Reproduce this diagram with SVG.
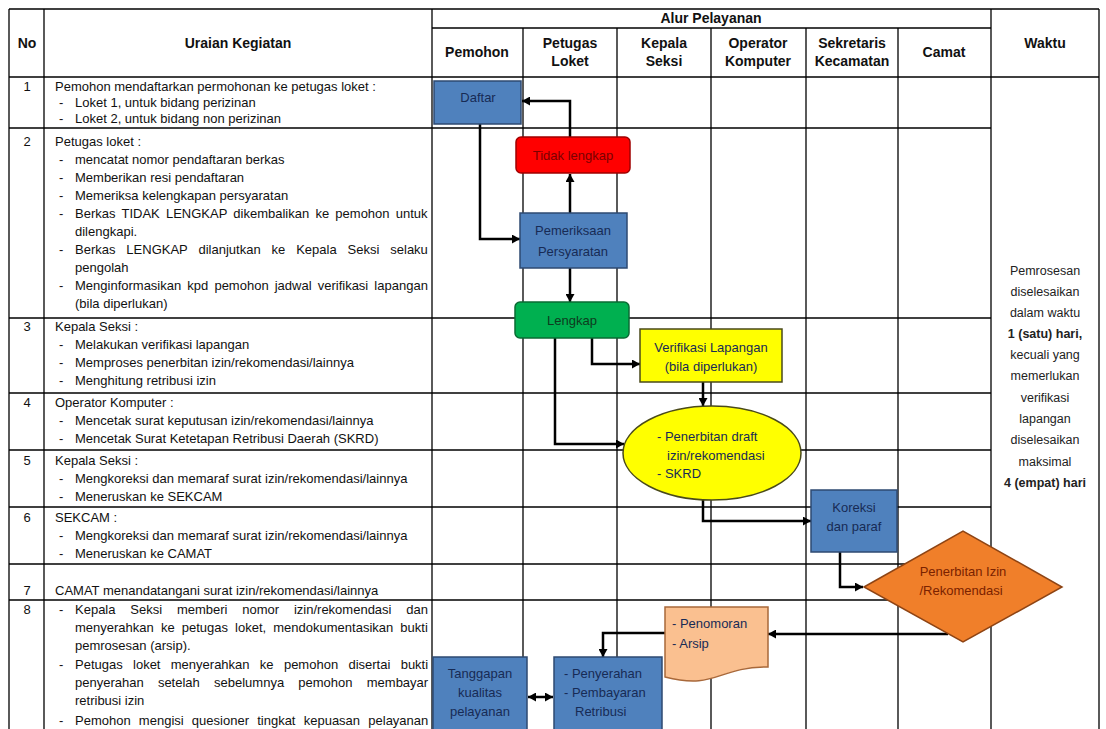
<svg xmlns="http://www.w3.org/2000/svg" width="1106" height="729" viewBox="0 0 1106 729">
<style>
text{font-family:'Liberation Sans',Arial,sans-serif;}
.t{font-size:13px;fill:#111;}
.h{font-size:14px;font-weight:bold;fill:#111;text-anchor:middle;}
.n{font-size:13px;fill:#111;text-anchor:middle;}
.w{font-size:12.5px;fill:#222;text-anchor:middle;}
.grid line{stroke:#000;stroke-width:1.3;}
.box-blue{fill:#4F81BD;stroke:#2E4A72;stroke-width:1.5;}
.tb{font-size:13px;fill:#172B55;text-anchor:middle;}
.conn path{fill:none;stroke:#000;stroke-width:2.5;marker-end:url(#ah);}
</style>
<defs>
<marker id="ah" markerUnits="userSpaceOnUse" markerWidth="9" markerHeight="9" refX="8" refY="4.5" orient="auto-start-reverse"><path d="M0,0 L8,4.5 L0,9 z" fill="#000"/></marker>
</defs>
<rect width="1106" height="729" fill="#fff"/>
<g id="grid" class="grid">
<line x1="9" y1="9" x2="1099" y2="9"/>
<line x1="432" y1="28" x2="991" y2="28"/>
<line x1="9" y1="77" x2="1099" y2="77"/>
<line x1="9" y1="128" x2="991" y2="128"/>
<line x1="9" y1="318" x2="991" y2="318"/>
<line x1="9" y1="393" x2="991" y2="393"/>
<line x1="9" y1="450" x2="991" y2="450"/>
<line x1="9" y1="507" x2="991" y2="507"/>
<line x1="9" y1="564" x2="991" y2="564"/>
<line x1="9" y1="600" x2="991" y2="600"/>
<line x1="9" y1="9" x2="9" y2="729"/>
<line x1="44" y1="9" x2="44" y2="729"/>
<line x1="432" y1="9" x2="432" y2="729"/>
<line x1="523" y1="28" x2="523" y2="729"/>
<line x1="617" y1="28" x2="617" y2="729"/>
<line x1="711" y1="28" x2="711" y2="729"/>
<line x1="806" y1="28" x2="806" y2="729"/>
<line x1="898" y1="28" x2="898" y2="729"/>
<line x1="991" y1="9" x2="991" y2="729"/>
<line x1="1099" y1="9" x2="1099" y2="729"/>
</g>
<g id="header">
<text class="h" x="27" y="48">No</text>
<text class="h" x="238" y="48">Uraian Kegiatan</text>
<text class="h" x="711" y="23">Alur Pelayanan</text>
<text class="h" x="477" y="57">Pemohon</text>
<text class="h" x="570" y="48">Petugas</text><text class="h" x="570" y="66">Loket</text>
<text class="h" x="664" y="48">Kepala</text><text class="h" x="664" y="66">Seksi</text>
<text class="h" x="758" y="48">Operator</text><text class="h" x="758" y="66">Komputer</text>
<text class="h" x="852" y="48">Sekretaris</text><text class="h" x="852" y="66">Kecamatan</text>
<text class="h" x="944" y="57">Camat</text>
<text class="h" x="1045" y="48">Waktu</text>
</g>
<g id="rows" class="t">
<text class="n" x="27" y="91">1</text>
<text x="55" y="91">Pemohon mendaftarkan permohonan ke petugas loket :</text>
<text x="59" y="107">-</text><text x="75" y="107">Loket 1, untuk bidang perizinan</text>
<text x="59" y="123">-</text><text x="75" y="123">Loket 2, untuk bidang non perizinan</text>

<text class="n" x="27" y="146">2</text>
<text x="55" y="146">Petugas loket :</text>
<text x="59" y="164">-</text><text x="75" y="164">mencatat nomor pendaftaran berkas</text>
<text x="59" y="182">-</text><text x="75" y="182">Memberikan resi pendaftaran</text>
<text x="59" y="200">-</text><text x="75" y="200">Memeriksa kelengkapan persyaratan</text>
<text x="59" y="218">-</text><text x="75" y="218" word-spacing="2.6">Berkas TIDAK LENGKAP dikembalikan ke pemohon untuk</text>
<text x="75" y="236">dilengkapi.</text>
<text x="59" y="254">-</text><text x="75" y="254" word-spacing="7.3">Berkas LENGKAP dilanjutkan ke Kepala Seksi selaku</text>
<text x="75" y="272">pengolah</text>
<text x="59" y="290">-</text><text x="75" y="290" word-spacing="2.5">Menginformasikan kpd pemohon jadwal verifikasi lapangan</text>
<text x="75" y="308">(bila diperlukan)</text>

<text class="n" x="27" y="331">3</text>
<text x="55" y="331">Kepala Seksi :</text>
<text x="59" y="349">-</text><text x="75" y="349">Melakukan verifikasi lapangan</text>
<text x="59" y="367">-</text><text x="75" y="367">Memproses penerbitan izin/rekomendasi/lainnya</text>
<text x="59" y="385">-</text><text x="75" y="385">Menghitung retribusi izin</text>

<text class="n" x="27" y="407">4</text>
<text x="55" y="407">Operator Komputer :</text>
<text x="59" y="425">-</text><text x="75" y="425">Mencetak surat keputusan izin/rekomendasi/lainnya</text>
<text x="59" y="443">-</text><text x="75" y="443">Mencetak Surat Ketetapan Retribusi Daerah (SKRD)</text>

<text class="n" x="27" y="465">5</text>
<text x="55" y="465">Kepala Seksi :</text>
<text x="59" y="483">-</text><text x="75" y="483">Mengkoreksi dan memaraf surat izin/rekomendasi/lainnya</text>
<text x="59" y="501">-</text><text x="75" y="501">Meneruskan ke SEKCAM</text>

<text class="n" x="27" y="522">6</text>
<text x="55" y="522">SEKCAM :</text>
<text x="59" y="540">-</text><text x="75" y="540">Mengkoreksi dan memaraf surat izin/rekomendasi/lainnya</text>
<text x="59" y="558">-</text><text x="75" y="558">Meneruskan ke CAMAT</text>

<text class="n" x="27" y="595">7</text>
<text x="55" y="595">CAMAT menandatangani surat izin/rekomendasi/lainnya</text>

<text class="n" x="27" y="614">8</text>
<text x="59" y="614">-</text><text x="75" y="614" word-spacing="11.2">Kepala Seksi memberi nomor izin/rekomendasi dan</text>
<text x="75" y="632" word-spacing="3.5">menyerahkan ke petugas loket, mendokumentasikan bukti</text>
<text x="75" y="650">pemrosesan (arsip).</text>
<text x="59" y="669">-</text><text x="75" y="669" word-spacing="6.7">Petugas loket menyerahkan ke pemohon disertai bukti</text>
<text x="75" y="687" word-spacing="10.6">penyerahan setelah sebelumnya pemohon membayar</text>
<text x="75" y="705">retribusi izin</text>
<text x="59" y="725">-</text><text x="75" y="725" word-spacing="4.6">Pemohon mengisi quesioner tingkat kepuasan pelayanan</text>
</g>
<g id="waktu" class="w">
<text x="1045" y="275">Pemrosesan</text>
<text x="1045" y="296">diselesaikan</text>
<text x="1045" y="317">dalam waktu</text>
<text x="1045" y="338" font-weight="bold">1 (satu) hari,</text>
<text x="1045" y="359">kecuali yang</text>
<text x="1045" y="380">memerlukan</text>
<text x="1045" y="402">verifikasi</text>
<text x="1045" y="423">lapangan</text>
<text x="1045" y="444">diselesaikan</text>
<text x="1045" y="466">maksimal</text>
<text x="1045" y="487" font-weight="bold">4 (empat) hari</text>
</g>
<g id="connectors" class="conn">
<path d="M570,137 V101 H522"/>
<path d="M480,124 V239 H520"/>
<path d="M570,213 V174"/>
<path d="M570,268 V302"/>
<path d="M592,338 V364 H640"/>
<path d="M555,338 V444 H624"/>
<path d="M703,382 V406"/>
<path d="M703,500 V521 H811"/>
<path d="M840,552 V587 H863"/>
<path d="M948,634 H768"/>
<path d="M665,633 H603 V657"/>
<path d="M528,697 H553" marker-start="url(#ah)"/>
</g>
<g id="daftar">
<rect class="box-blue" x="434" y="81" width="87" height="43"/>
<text class="tb" x="478" y="102">Daftar</text>
</g>
<g id="tidak-lengkap">
<rect x="516" y="137" width="114" height="36" rx="5" fill="#FF0000" stroke="#A00000" stroke-width="1.5"/>
<text class="n" x="573" y="160" fill="#7A0000" style="fill:#7A0000">Tidak lengkap</text>
</g>
<g id="pemeriksaan">
<rect class="box-blue" x="520" y="213" width="107" height="55"/>
<text class="tb" x="573" y="235">Pemeriksaan</text>
<text class="tb" x="573" y="256">Persyaratan</text>
</g>
<g id="lengkap">
<rect x="515" y="302" width="114" height="36" rx="5" fill="#00B050" stroke="#0A6B33" stroke-width="1.5"/>
<text class="n" x="572" y="325" style="fill:#0E3B1E">Lengkap</text>
</g>
<g id="verifikasi">
<rect x="640" y="329" width="142" height="53" fill="#FFFF00" stroke="#4A4A1A" stroke-width="1.5"/>
<text class="tb" x="711" y="352">Verifikasi Lapangan</text>
<text class="tb" x="711" y="371">(bila diperlukan)</text>
</g>
<g id="penerbitan-draft">
<ellipse cx="712" cy="453" rx="89" ry="47" fill="#FFFF00" stroke="#4A4A1A" stroke-width="1.5"/>
<text class="t" x="657" y="441" style="fill:#172B55">- Penerbitan draft</text>
<text class="t" x="667" y="460" style="fill:#172B55">izin/rekomendasi</text>
<text class="t" x="657" y="478" style="fill:#172B55">- SKRD</text>
</g>
<g id="koreksi">
<rect class="box-blue" x="811" y="490" width="86" height="62"/>
<text class="tb" x="854" y="512">Koreksi</text>
<text class="tb" x="854" y="531">dan paraf</text>
</g>
<g id="penerbitan-izin">
<polygon points="864,587 963,531 1062,587 963,642" fill="#F07F2A" stroke="#8E4414" stroke-width="1.5"/>
<text class="n" x="963" y="576" style="fill:#7A2200">Penerbitan Izin</text>
<text class="n" x="961" y="595" style="fill:#7A2200">/Rekomendasi</text>
</g>
<g id="penomoran">
<path d="M665,607 H768 V667 C716.5,667 716.5,690 665,677 Z" fill="#FAC090" stroke="#A8683A" stroke-width="1.5"/>
<text class="t" x="672" y="628" style="fill:#172B55">- Penomoran</text>
<text class="t" x="672" y="648" style="fill:#172B55">- Arsip</text>
</g>
<g id="tanggapan">
<rect class="box-blue" x="433" y="657" width="94" height="85"/>
<text class="tb" x="480" y="678">Tanggapan</text>
<text class="tb" x="480" y="697">kualitas</text>
<text class="tb" x="480" y="716">pelayanan</text>
</g>
<g id="penyerahan">
<rect class="box-blue" x="554" y="657" width="108" height="85"/>
<text class="t" x="564" y="678" style="fill:#172B55">- Penyerahan</text>
<text class="t" x="564" y="697" style="fill:#172B55">- Pembayaran</text>
<text class="t" x="575" y="716" style="fill:#172B55">Retribusi</text>
</g>
</svg>
